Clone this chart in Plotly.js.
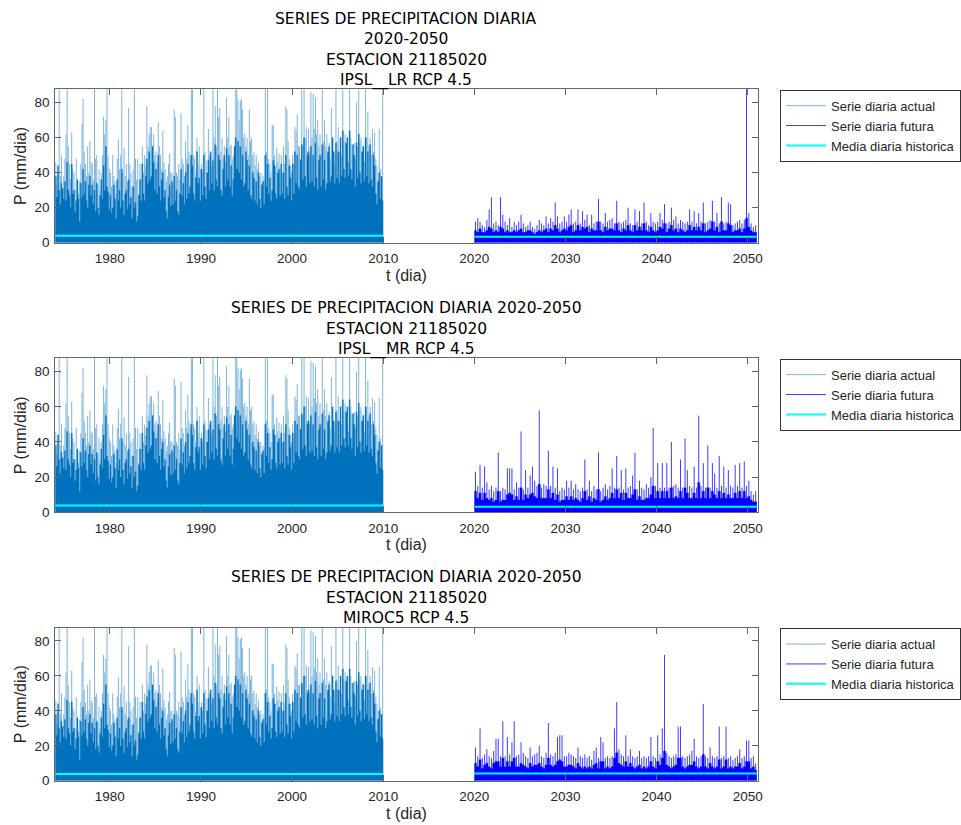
<!DOCTYPE html>
<html>
<head>
<meta charset="utf-8">
<script src="https://cdn.plot.ly/plotly-3.0.1.min.js"></script>
<style>
  html, body { margin: 0; padding: 0; background: #ffffff; }
  #chart { width: 961px; height: 825px; }
</style>
</head>
<body>
<div id="chart"></div>
<script>
// ---------------- DATA ----------------
// Historical daily series 1974-2010, sampled every 1/8 year
const histStart = 1974.0;
const histEnd = 2010.0;
const histStep = 0.125;
// isolated daily maxima (light spikes)
const histPeak = [
  46, 33, 40, 95, 38, 50, 30, 38,   // 1974
  48, 62, 95, 55, 45, 36, 63, 42,   // 1975
  40, 30, 48, 35, 28, 35, 45, 68,   // 1976
  82, 52, 45, 38, 55, 40, 58, 46,   // 1977
  45, 36, 95, 48, 50, 33, 42, 30,   // 1978
  40, 50, 72, 62, 70, 95, 50, 42,   // 1979
  40, 32, 50, 38, 35, 28, 48, 59,   // 1980
  42, 50, 95, 40, 54, 38, 45, 35,   // 1981
  77, 45, 40, 32, 42, 95, 48, 36,   // 1982
  48, 28, 45, 36, 55, 40, 50, 44,   // 1983
  78, 55, 62, 66, 66, 48, 62, 50,   // 1984
  52, 45, 69, 55, 50, 42, 64, 46,   // 1985
  42, 35, 38, 45, 51, 40, 40, 34,   // 1986
  76, 72, 40, 38, 45, 36, 74, 48,   // 1987
  45, 38, 58, 48, 67, 52, 48, 95,   // 1988
  95, 50, 48, 40, 60, 45, 55, 42,   // 1989
  45, 40, 95, 52, 47, 40, 65, 50,   // 1990
  50, 44, 95, 60, 78, 55, 95, 72,   // 1991
  77, 52, 60, 48, 55, 46, 83, 60,   // 1992
  72, 55, 56, 48, 50, 44, 95, 95,   // 1993
  82, 70, 81, 82, 76, 60, 62, 55,   // 1994
  60, 50, 76, 58, 60, 50, 52, 44,   // 1995
  50, 42, 46, 38, 40, 34, 38, 36,   // 1996
  95, 52, 95, 48, 45, 40, 67, 67,   // 1997
  50, 44, 54, 46, 51, 42, 50, 40,   // 1998
  55, 45, 78, 76, 58, 48, 44, 40,   // 1999
  50, 45, 66, 64, 73, 55, 55, 48,   // 2000
  95, 55, 95, 60, 66, 52, 65, 50,   // 2001
  86, 60, 85, 65, 83, 62, 70, 55,   // 2002
  62, 50, 95, 58, 70, 55, 62, 50,   // 2003
  57, 48, 77, 60, 50, 45, 95, 58,   // 2004
  66, 52, 60, 50, 95, 58, 62, 55,   // 2005
  50, 46, 95, 60, 56, 50, 57, 48,   // 2006
  80, 55, 95, 58, 60, 52, 55, 46,   // 2007
  95, 60, 75, 55, 60, 50, 65, 52,   // 2008
  63, 48, 44, 36, 65, 42, 33, 95    // 2009
];
// dense part of the series (dark body)
const histBody = [
  38, 26, 44, 30, 22, 34, 31, 25,   // 1974
  35, 24, 46, 30, 27, 20, 45, 28,   // 1975
  30, 18, 24, 36, 25, 12, 34, 26,   // 1976
  42, 28, 35, 24, 20, 33, 38, 27,   // 1977
  33, 22, 30, 18, 34, 20, 16, 27,   // 1978
  36, 25, 44, 30, 55, 32, 29, 19,   // 1979
  27, 17, 20, 33, 25, 14, 36, 24,   // 1980
  30, 20, 42, 24, 16, 28, 30, 19,   // 1981
  36, 22, 26, 14, 32, 20, 23, 12,   // 1982
  15, 27, 36, 24, 45, 28, 24, 38,   // 1983
  48, 34, 52, 36, 38, 55, 46, 30,   // 1984
  42, 28, 50, 32, 24, 36, 40, 26,   // 1985
  30, 18, 14, 26, 33, 21, 35, 22,   // 1986
  38, 24, 30, 18, 16, 28, 42, 27,   // 1987
  34, 22, 40, 25, 45, 28, 32, 50,   // 1988
  44, 28, 24, 37, 52, 34, 37, 24,   // 1989
  42, 27, 50, 32, 25, 40, 47, 30,   // 1990
  52, 34, 47, 30, 56, 36, 32, 50,   // 1991
  47, 30, 27, 42, 50, 32, 54, 36,   // 1992
  50, 32, 44, 27, 36, 55, 60, 42,   // 1993
  58, 40, 55, 36, 50, 32, 34, 52,   // 1994
  47, 30, 44, 27, 25, 40, 37, 24,   // 1995
  35, 22, 40, 25, 20, 33, 35, 22,   // 1996
  50, 32, 45, 28, 37, 24, 30, 47,   // 1997
  44, 28, 25, 40, 42, 27, 45, 28,   // 1998
  40, 25, 50, 32, 27, 44, 37, 24,   // 1999
  45, 28, 52, 34, 50, 32, 30, 47,   // 2000
  56, 36, 60, 38, 32, 50, 52, 34,   // 2001
  55, 35, 50, 32, 57, 37, 30, 47,   // 2002
  50, 32, 56, 36, 47, 30, 34, 52,   // 2003
  55, 35, 38, 60, 52, 34, 57, 37,   // 2004
  52, 34, 60, 38, 64, 42, 37, 57,   // 2005
  60, 38, 64, 42, 36, 56, 50, 32,   // 2006
  57, 37, 62, 40, 34, 52, 55, 35,   // 2007
  60, 38, 52, 34, 56, 36, 32, 50,   // 2008
  44, 28, 22, 35, 40, 25, 38, 24    // 2009
];
const histMean = 3.9;

// Future daily series 2020-2051, sampled every 1/4 year: spike tops and dense body
const futStart = 2020.0;
const futStep = 0.25;
const models = ['IPSL__LR RCP 4.5', 'IPSL__MR RCP 4.5', 'MIROC5 RCP 4.5'];
const futPeakLR = [
  12, 14, 12, 10,  9, 13, 19, 26,  11, 12, 10, 26,  16, 12, 10, 14,  9, 12, 10, 12,   // 2020-2024
  16, 11, 9, 10,  12, 9, 8, 10,  13, 11, 10, 15,  11, 14, 12, 23,  15, 11, 12, 15,     // 2025-2029
  12, 16, 19, 11,  12, 19, 11, 18,  13, 16, 10, 16,  11, 12, 25, 12,  11, 17, 12, 13,  // 2030-2034
  14, 11, 24, 12,  11, 12, 13, 20,  11, 10, 19, 12,  18, 11, 23, 12,  10, 17, 12, 11,  // 2035-2039
  12, 17, 13, 22,  11, 12, 20, 13,  15, 11, 13, 12,  11, 12, 19, 12,  18, 11, 17, 12,  // 2040-2044
  23, 11, 12, 13,  24, 12, 17, 11,  26, 11, 12, 23,  22, 10, 11, 12,  13, 11, 13, 95,  // 2045-2049
  17, 11, 9, 10                                                                         // 2050
];
const futBodyLR = [
  7, 6, 8, 6,  6, 7, 9, 8,  6, 7, 6, 9,  8, 6, 7, 6,  6, 7, 6, 7,
  8, 6, 6, 7,  7, 6, 5, 6,  7, 6, 7, 8,  6, 8, 7, 10,  8, 6, 7, 8,
  7, 9, 10, 6,  7, 10, 7, 9,  8, 9, 6, 8,  7, 7, 12, 7,  6, 9, 7, 8,
  8, 7, 11, 7,  6, 8, 7, 10,  7, 6, 10, 7,  9, 7, 11, 7,  6, 9, 7, 6,
  7, 9, 8, 11,  6, 8, 10, 7,  8, 6, 8, 7,  6, 7, 10, 7,  9, 7, 9, 7,
  11, 6, 7, 8,  12, 7, 9, 6,  12, 7, 7, 11,  10, 6, 7, 7,  8, 6, 8, 14,
  9, 7, 6, 6
];
const futPeakMR = [
  23, 15, 27, 14,  26, 17, 13, 15,  12, 14, 34, 12,  14, 13, 25, 25,  25, 13, 17, 14,
  46, 13, 24, 14,  21, 26, 18, 15,  58, 14, 16, 15,  35, 15, 26, 14,  25, 12, 14, 13,
  18, 14, 18, 13,  16, 13, 12, 14,  30, 13, 18, 12,  15, 13, 34, 12,  14, 16, 13, 15,
  25, 14, 32, 14,  24, 13, 25, 14,  15, 21, 34, 13,  18, 14, 13, 16,  14, 20, 48, 15,
  28, 14, 28, 14,  28, 14, 40, 15,  16, 14, 30, 14,  42, 24, 15, 14,  26, 14, 55, 15,
  28, 14, 38, 14,  28, 22, 14, 32,  15, 26, 14, 24,  15, 14, 27, 15,  28, 14, 29, 15,
  18, 12, 10, 12
];
const futBodyMR = [
  12, 8, 11, 7,  11, 8, 7, 8,  6, 7, 12, 6,  7, 7, 10, 11,  10, 7, 9, 7,
  14, 7, 10, 8,  10, 11, 9, 8,  16, 8, 8, 8,  13, 8, 11, 7,  10, 6, 7, 7,
  9, 7, 9, 7,  8, 7, 6, 8,  12, 7, 9, 6,  8, 7, 13, 6,  7, 9, 7, 8,
  11, 8, 13, 8,  11, 7, 11, 8,  8, 10, 13, 7,  9, 7, 7, 8,  8, 10, 15, 8,
  12, 8, 12, 8,  12, 8, 14, 8,  9, 8, 12, 8,  14, 11, 8, 8,  11, 8, 17, 8,
  12, 8, 14, 8,  12, 10, 8, 12,  8, 11, 8, 10,  8, 8, 11, 8,  12, 8, 12, 8,
  9, 7, 6, 6
];
const futPeakMI = [
  19, 14, 30, 13,  15, 18, 14, 13,  17, 24, 24, 14,  34, 14, 25, 15,  22, 34, 14, 15,
  22, 16, 14, 13,  19, 14, 15, 16,  20, 14, 13, 16,  33, 15, 14, 16,  25, 26, 26, 14,
  14, 16, 15, 14,  13, 19, 14, 13,  15, 13, 14, 12,  17, 19, 13, 25,  22, 13, 14, 13,
  14, 30, 45, 18,  15, 14, 26, 14,  18, 14, 13, 14,  17, 13, 14, 13,  14, 25, 14, 13,
  26, 15, 30, 72,  16, 14, 13, 14,  15, 31, 31, 14,  13, 14, 15, 17,  24, 14, 13, 14,
  44, 14, 13, 19,  14, 13, 14, 31,  13, 14, 31, 13,  14, 12, 13, 14,  18, 13, 14, 23,
  23, 13, 14, 10
];
const futBodyMI = [
  10, 8, 12, 7,  9, 10, 8, 7,  10, 11, 11, 8,  13, 8, 11, 8,  11, 13, 8, 8,
  10, 9, 8, 7,  10, 8, 9, 9,  10, 8, 7, 9,  13, 9, 8, 9,  11, 12, 11, 8,
  8, 9, 9, 8,  7, 10, 8, 7,  8, 7, 8, 7,  9, 10, 7, 11,  11, 7, 8, 7,
  8, 13, 16, 10,  9, 8, 11, 8,  10, 8, 7, 8,  9, 7, 8, 7,  8, 11, 8, 7,
  11, 9, 13, 17,  9, 8, 7, 8,  9, 13, 13, 8,  7, 8, 9, 9,  11, 8, 7, 8,
  15, 8, 7, 10,  8, 7, 8, 12,  7, 8, 12, 7,  8, 7, 8, 8,  10, 7, 8, 11,
  11, 7, 8, 6
];
const futPeaks = [futPeakLR, futPeakMR, futPeakMI];
const futBodies = [futBodyLR, futBodyMR, futBodyMI];
const futMeans = [3.4, 3.2, 4.1];

const legendNames = ['Serie diaria actual', 'Serie diaria futura', 'Media diaria historica'];
const titleLines = [
  ['SERIES DE PRECIPITACION DIARIA', '2020-2050', 'ESTACION 21185020', models[0]],
  ['SERIES DE PRECIPITACION DIARIA 2020-2050', 'ESTACION 21185020', models[1]],
  ['SERIES DE PRECIPITACION DIARIA 2020-2050', 'ESTACION 21185020', models[2]]
];
const xTickVals = [1980, 1990, 2000, 2010, 2020, 2030, 2040, 2050];
const xTickText = ['1980', '1990', '2000', '2010', '2020', '2030', '2040', '2050'];
const yTickVals = [0, 20, 40, 60, 80];
const yTickText = ['0', '20', '40', '60', '80'];
const xLabel = 't (dia)';
const yLabel = 'P (mm/dia)';

// ---------------- LAYOUT GEOMETRY ----------------
const W = 961, H = 825;
const plotLeft = 55.3, plotRight = 759.3;
const panelTops = [89.3, 358.3, 627.7];
const panelBottoms = [242.7, 512.3, 780.7];
const titleCenters = [[17.5, 38, 58.5, 79], [306.5, 327, 347.5], [575.5, 596, 616.5]];
const xRange = [1974.0, 2051.1];
const yRange = [0, 87.6];

const COL_HIST_BODY = '#0072BD';
const COL_HIST_SPIKE = '#7db5de';
const COL_FUT_BODY = '#0000FF';
const COL_FUT_SPIKE = '#3d3dff';
const COL_MEAN = '#00FFFF';

function spikeXY(start, step, vals) {
  const x = [], y = [];
  vals.forEach((v, i) => {
    const t = start + (i + 0.5) * step;
    x.push(t, t, null);
    y.push(0, v, null);
  });
  return { x, y };
}
function stepXY(start, step, vals) {
  const x = [], y = [];
  vals.forEach((v, i) => { x.push(start + i * step); y.push(v); });
  x.push(start + vals.length * step);
  y.push(vals[vals.length - 1]);
  return { x, y };
}

const traces = [];
const layout = {
  width: W, height: H,
  margin: { l: 0, r: 0, t: 0, b: 0, pad: 0 },
  paper_bgcolor: '#ffffff',
  plot_bgcolor: '#ffffff',
  showlegend: true,
  annotations: [],
  font: { family: 'Liberation Sans, Arial, sans-serif', color: '#262626' }
};

const tickFont = { family: 'Liberation Sans, Arial, sans-serif', size: 13.5, color: '#262626' };
const labelFont = { family: 'Liberation Sans, Arial, sans-serif', size: 16, color: '#262626' };

for (let k = 0; k < 3; k++) {
  const sfx = k === 0 ? '' : String(k + 1);
  const xa = 'x' + sfx, ya = 'y' + sfx;
  const lg = 'legend' + sfx;

  const hs = spikeXY(histStart, histStep, histPeak);
  traces.push({
    type: 'scatter', mode: 'lines', x: hs.x, y: hs.y, xaxis: xa, yaxis: ya,
    line: { color: COL_HIST_SPIKE, width: 1 }, name: legendNames[0], legend: lg,
    hoverinfo: 'skip', connectgaps: false
  });
  const hb = stepXY(histStart, histStep, histBody);
  traces.push({
    type: 'scatter', mode: 'lines', x: hb.x, y: hb.y, xaxis: xa, yaxis: ya,
    line: { color: COL_HIST_BODY, width: 0.3, shape: 'hv' }, fill: 'tozeroy',
    fillcolor: COL_HIST_BODY, showlegend: false, hoverinfo: 'skip'
  });
  const fs = spikeXY(futStart, futStep, futPeaks[k]);
  traces.push({
    type: 'scatter', mode: 'lines', x: fs.x, y: fs.y, xaxis: xa, yaxis: ya,
    line: { color: COL_FUT_SPIKE, width: 1 }, name: legendNames[1], legend: lg,
    hoverinfo: 'skip', connectgaps: false
  });
  const fb = stepXY(futStart, futStep, futBodies[k]);
  traces.push({
    type: 'scatter', mode: 'lines', x: fb.x, y: fb.y, xaxis: xa, yaxis: ya,
    line: { color: COL_FUT_BODY, width: 0.3, shape: 'hv' }, fill: 'tozeroy',
    fillcolor: COL_FUT_BODY, showlegend: false, hoverinfo: 'skip'
  });
  traces.push({
    type: 'scatter', mode: 'lines', x: [histStart, histEnd], y: [histMean, histMean],
    xaxis: xa, yaxis: ya, line: { color: COL_MEAN, width: 2 }, name: legendNames[2],
    legend: lg, hoverinfo: 'skip'
  });
  traces.push({
    type: 'scatter', mode: 'lines', x: [futStart, futStart + futPeaks[k].length * futStep],
    y: [futMeans[k], futMeans[k]], xaxis: xa, yaxis: ya,
    line: { color: COL_MEAN, width: 2 }, showlegend: false, hoverinfo: 'skip'
  });

  const yDom = [1 - panelBottoms[k] / H, 1 - panelTops[k] / H];
  layout['xaxis' + sfx] = {
    domain: [plotLeft / W, plotRight / W], anchor: ya, range: xRange,
    tickmode: 'array', tickvals: xTickVals, ticktext: xTickText,
    ticks: 'inside', ticklen: 6, tickcolor: '#666666', tickwidth: 1,
    showline: true, linecolor: '#666666', linewidth: 1, mirror: 'ticks',
    showgrid: false, zeroline: false, tickfont: tickFont, ticklabelstandoff: 3,
    title: { text: xLabel, font: labelFont, standoff: 4 }, fixedrange: true
  };
  layout['yaxis' + sfx] = {
    domain: yDom, anchor: xa, range: yRange,
    tickmode: 'array', tickvals: yTickVals, ticktext: yTickText,
    ticks: 'inside', ticklen: 6, tickcolor: '#666666', tickwidth: 1,
    showline: true, linecolor: '#666666', linewidth: 1, mirror: 'ticks',
    showgrid: false, zeroline: false, tickfont: tickFont, ticklabelstandoff: 2,
    title: { text: yLabel, font: labelFont, standoff: 3 }, fixedrange: true
  };
  layout[lg] = {
    x: 781.7 / W, y: 1 - (panelTops[k] + 0.4) / H, xanchor: 'left', yanchor: 'top',
    bgcolor: '#ffffff', bordercolor: '#333333', borderwidth: 1,
    font: { family: 'Liberation Sans, Arial, sans-serif', size: 13, color: '#262626' },
    traceorder: 'normal', tracegroupgap: 0, itemwidth: 40
  };

  titleLines[k].forEach((txt, j) => {
    layout.annotations.push({
      xref: 'paper', yref: 'paper', x: (plotLeft + plotRight) / 2 / W,
      y: 1 - (titleCenters[k][j] + 1.5) / H, xanchor: 'center', yanchor: 'middle',
      text: txt, showarrow: false,
      font: { family: 'DejaVu Sans, sans-serif', size: 15.5, color: '#000000' }
    });
  });
}

Plotly.newPlot('chart', traces, layout, { displayModeBar: false, staticPlot: true });
</script>
</body>
</html>
